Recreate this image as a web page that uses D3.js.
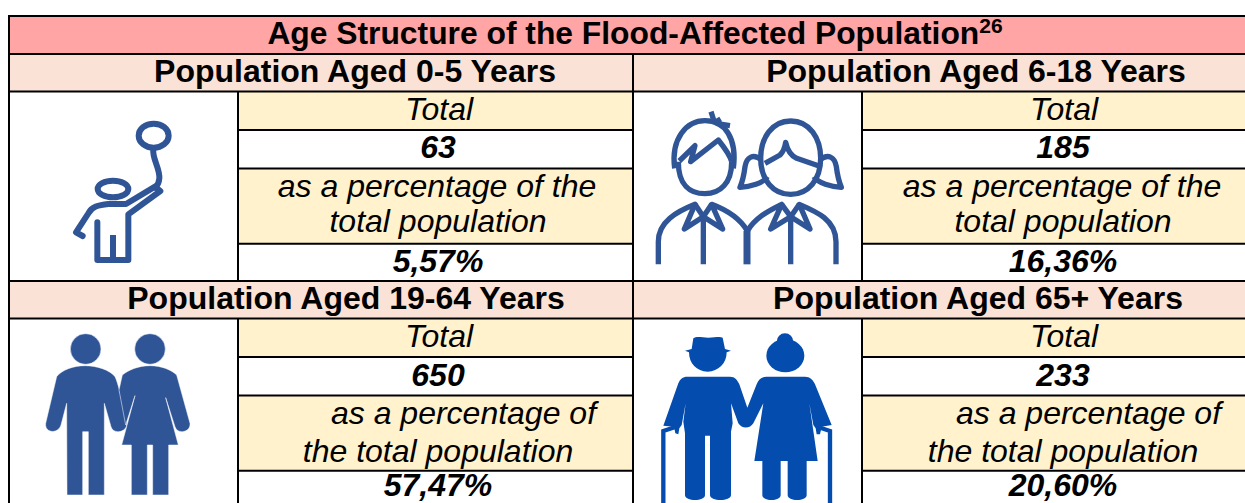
<!DOCTYPE html>
<html>
<head>
<meta charset="utf-8">
<script src="https://cdn.jsdelivr.net/npm/d3@7"></script>
<style>
    html, body { margin: 0; padding: 0; background: #fff; overflow: hidden; }
    text { font-family: "Liberation Sans", Arial, sans-serif; fill: #000; text-anchor: middle; }
</style>
</head>
<body>
<div id="chart"></div>
<script>
// Values
const chartTitle = "Age Structure of the Flood-Affected Population";
const footnote = "26";
const ageGroups = ["0-5", "6-18", "19-64", "65+"];
const totals = [63, 185, 650, 233];
const shares = [5.57, 16.36, 57.47, 20.60];
const totalLabel = "Total";
const shareLines = [
    ["as a percentage of the", "total population"],
    ["as a percentage of the", "total population"],
    ["as a percentage of", "the total population"],
    ["as a percentage of", "the total population"]
];

const width = 1245;
const height = 503;

const svg = d3.select("#chart")
    .append("svg")
    .attr("width", width)
    .attr("height", height);

// comma decimals like the source table
const fmtShare = d3.formatLocale({ decimal: ",", thousands: ".", grouping: [3], currency: ["", ""] }).format(".2f");

const colX = d3.scaleOrdinal().domain([0, 1]).range([9, 633]);
const rowY = d3.scaleOrdinal().domain([0, 1]).range([54, 281]);
const partY = d3.scaleOrdinal()
    .domain(["header", "total", "value", "share", "shareValue", "end"])
    .range([0, 37.5, 76, 114.5, 189.7, 227]);

const iconW = 229;   // icon cell width
const panelW = d => d.col === 0 ? 624 : width - 633;

const panels = ageGroups.map((g, i) => ({
    group: g,
    total: totals[i],
    share: shares[i],
    lines: shareLines[i],
    col: i % 2,
    row: Math.floor(i / 2),
    index: i
}));

// title band
svg.append("rect").attr("x", 9).attr("y", 16).attr("width", width - 9).attr("height", 38).attr("fill", "#ffa5a5");
const title = svg.append("text").attr("x", 635).attr("y", 43.5)
    .attr("font-size", 31.8).attr("font-weight", "bold").text(chartTitle);
title.append("tspan").attr("dy", -11).attr("font-size", 21).text(footnote);

const panel = svg.selectAll("g.panel")
    .data(panels)
    .join("g")
    .attr("class", "panel")
    .attr("transform", d => `translate(${colX(d.col)}, ${rowY(d.row)})`);

// cell backgrounds
const bands = [
    { from: "header", to: "total", fill: "#fbe2d6", wide: true },
    { from: "total", to: "value", fill: "#fff2cc" },
    { from: "share", to: "shareValue", fill: "#fff2cc" }
];
bands.forEach(b => {
    panel.append("rect")
        .attr("x", b.wide ? 0 : iconW)
        .attr("y", partY(b.from))
        .attr("width", d => b.wide ? panelW(d) : panelW(d) - iconW)
        .attr("height", partY(b.to) - partY(b.from))
        .attr("fill", b.fill);
});

// horizontal + vertical rules
const rule = sel => sel.attr("stroke", "#000").attr("stroke-width", 2);
panel.each(function(d) {
    const g = d3.select(this);
    ["header", "total", "value", "share", "shareValue"].forEach(p => {
        const wide = p === "header" || p === "total";
        g.append("line").call(rule)
            .attr("x1", wide ? 0 : iconW)
            .attr("x2", panelW(d))
            .attr("y1", partY(p)).attr("y2", partY(p));
    });
    g.append("line").call(rule)
        .attr("x1", iconW).attr("x2", iconW)
        .attr("y1", partY("total")).attr("y2", partY("end"));
    g.append("line").call(rule)
        .attr("x1", 0).attr("x2", 0)
        .attr("y1", 0).attr("y2", partY("end"));
});
svg.append("line").call(rule).attr("x1", 8).attr("x2", width).attr("y1", 16).attr("y2", 16);
svg.append("line").call(rule).attr("x1", 9).attr("x2", 9).attr("y1", 16).attr("y2", 54);

// texts
const textX = d => d.col === 0 ? 438 - 9 : 1063 - 633;
const headerX = [355, 976, 346, 978];
panel.append("text")
    .attr("x", d => headerX[d.index] - colX(d.col))
    .attr("y", d => d.row === 0 ? 27.7 : 28.3)
    .attr("font-size", 32).attr("font-weight", "bold")
    .text(d => `Population Aged ${d.group} Years`);
panel.append("text")
    .attr("x", d => textX(d) + 1).attr("y", 66.3)
    .attr("font-size", 32).attr("font-style", "italic")
    .text(totalLabel);
panel.append("text")
    .attr("x", textX).attr("y", d => d.row === 0 ? 103.7 : 105)
    .attr("font-size", 32).attr("font-weight", "bold").attr("font-style", "italic")
    .text(d => d.total);
panel.append("text")
    .attr("x", d => textX(d) + (d.row === 1 ? 25.5 : -1)).attr("y", 143)
    .attr("font-size", 32).attr("font-style", "italic")
    .text(d => d.lines[0]);
panel.append("text")
    .attr("x", textX).attr("y", d => d.row === 0 ? 178 : 180.7)
    .attr("font-size", 32).attr("font-style", "italic")
    .text(d => d.lines[1]);
panel.append("text")
    .attr("x", textX).attr("y", d => d.row === 0 ? 217.7 : 215)
    .attr("font-size", 32).attr("font-weight", "bold").attr("font-style", "italic")
    .text(d => fmtShare(d.share) + "%");

// pictograms, drawn in 3x crop units of the reference
const icons = svg.append("g").attr("class", "icons");
const line1 = { fill: "none", stroke: "#2f5597", "stroke-width": 18, "stroke-linejoin": "round", "stroke-linecap": "round" };

function addIcon(x, y, shapes, style) {
    const g = icons.append("g").attr("transform", `translate(${x}, ${y}) scale(${1 / 3})`);
    Object.entries(style).forEach(([k, v]) => g.attr(k, v));
    shapes.forEach(p => g.append("path").attr("d", p));
    return g;
}

// child with balloon
addIcon(60, 115, [
    "M236 62a45 36 0 1 0 90 0a45 36 0 1 0 -90 0",
    "M280 103C276 130 300 160 298 190C297 205 292 212 285 218",
    "M113 222a46 25 0 1 0 92 0a46 25 0 1 0 -92 0",
    "M68 363L48 352L85 295C95 275 115 270 145 267L198 267L285 215L301 228L205 298L205 435L112 435L112 322"
], line1);
addIcon(60, 115, ["M159 360L159 435"], Object.assign({}, line1, { "stroke-linecap": "butt" }));

// boy and girl
addIcon(650, 105, [
    "M74 190C62 100 110 47 165 47C225 47 262 100 250 190",
    "M85 170C85 240 120 266 165 266C210 266 245 235 245 170",
    "M88 168L135 122L122 170L205 105C225 130 240 150 245 170",
    "M183 20L192 48M212 42L195 52M240 62L198 55",
    "M422 48C365 48 332 100 332 160C332 225 370 268 422 268C474 268 512 225 512 160C512 100 479 48 422 48",
    "M345 175L390 150C400 140 405 125 407 112C412 135 420 150 440 160L505 182",
    "M335 165C310 145 290 155 285 185C282 210 275 235 270 247C300 245 340 235 352 215",
    "M509 165C534 145 554 155 559 185C562 210 569 235 574 247C544 245 504 235 492 215",
    "M25 478L25 410C25 350 80 320 135 298L103 372L160 335L218 372L185 298C230 315 270 340 292 378",
    "M292 378C315 340 350 320 395 298L362 372L422 335L480 372L448 298C500 320 558 345 558 410L558 478",
    "M135 298L160 335L185 298M395 298L422 335L448 298",
    "M160 335L160 478M422 335L422 478"
], Object.assign({}, line1, { "stroke-linecap": "butt", "stroke-width": 16 }));
addIcon(650, 105, ["M291 378L291 478"], { fill: "none", stroke: "#2f5597", "stroke-width": 21 });

// adults
addIcon(35, 325, [
    "M106 72a46 46 0 1 0 92 0a46 46 0 1 0 -92 0",
    "M299 72a46 46 0 1 0 92 0a46 46 0 1 0 -92 0",
    "M150 122C185 122 225 135 240 155C250 175 262 230 275 295C278 322 235 330 228 305L208 235L208 510L160 510L160 320L143 320L143 510L96 510L95 235L78 300C70 328 28 325 32 295L65 155C80 135 115 122 150 122Z",
    "M345 122C380 122 410 135 425 150L465 295C468 322 428 330 420 305L392 218L430 360L401 360L401 510L353 510L353 360L337 360L337 510L289 510L289 360L260 360L300 212L272 300L252 195L262 150C280 135 310 122 345 122Z"
], { fill: "#2f5597", stroke: "#fff", "stroke-width": 1.5 });

// older couple
const g4 = addIcon(650, 325, [
    "M125 72L130 40C140 33 155 38 175 38C195 38 210 33 218 38L225 72L243 77L230 82C230 115 205 140 173 140C140 140 117 115 117 82L105 77Z",
    "M380 50a25 25 0 1 1 50 0a25 25 0 1 1 -50 0",
    "M349 92a57 50 0 1 0 114 0a57 50 0 1 0 -114 0",
    "M112 155L240 155C255 155 262 165 268 178L292 248L320 178C325 163 335 155 350 155L465 155C480 155 490 165 495 178L545 300L515 305L510 328L500 328L497 310L490 300L478 235L503 408L470 408L470 510C470 530 413 530 413 510L413 408L392 408L392 510C392 530 337 530 337 510L337 408L313 408L340 235L310 295C300 312 275 312 265 295L243 235L248 295L243 320L243 510C243 530 180 530 180 510L180 332L165 332L165 510C165 530 105 530 105 510L105 325L100 290L107 235L95 300L88 310L85 328L76 325L72 305L40 302L85 175C90 162 98 155 112 155Z"
], { fill: "#044cad" });
g4.append("path")
    .attr("d", "M40 534L40 318L76 306M540 534L540 318L504 306")
    .attr("fill", "none").attr("stroke", "#044cad").attr("stroke-width", 13);
</script>
</body>
</html>
